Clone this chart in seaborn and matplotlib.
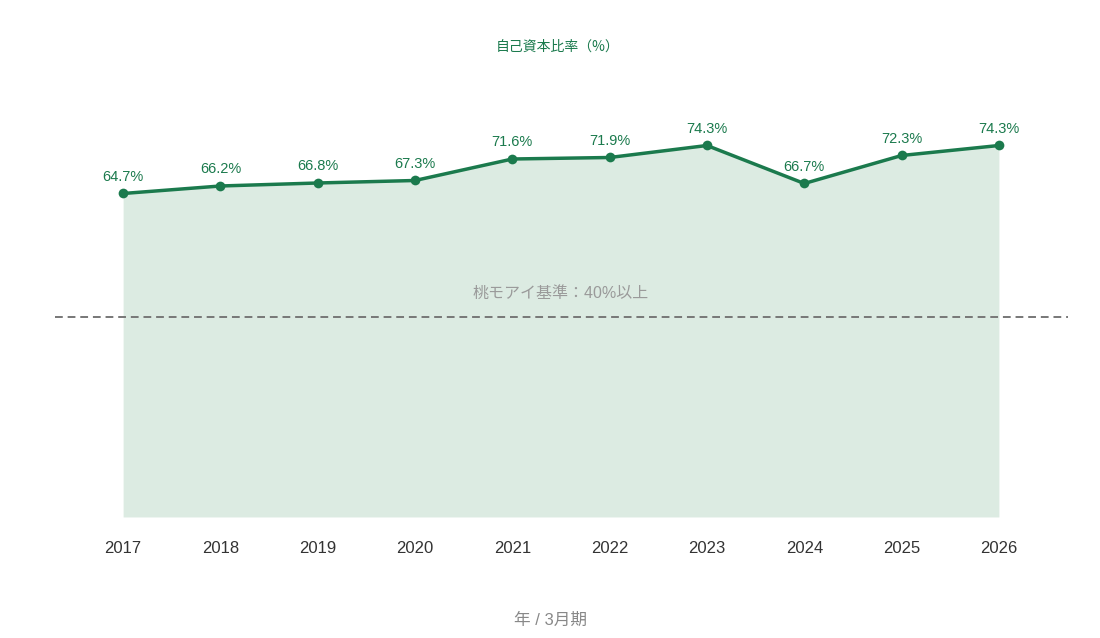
import numpy as np
import pandas as pd
import matplotlib
matplotlib.use("Agg")
import matplotlib.pyplot as plt
import seaborn as sns

# データ
years = ["2017", "2018", "2019", "2020", "2021", "2022", "2023", "2024", "2025", "2026"]
ratio = [64.7, 66.2, 66.8, 67.3, 71.6, 71.9, 74.3, 66.7, 72.3, 74.3]
baseline = 40
baseline_label = "桃モアイ基準：40%以上"
title = "自己資本比率（%）"
xlabel = "年 / 3月期"

green = "#1b7a4d"
fill_c = "#dcebe2"

sns.set_theme(style="white")
plt.rcParams['font.family'] = ['Liberation Sans', 'Noto Sans CJK JP', 'DejaVu Sans']

df = pd.DataFrame({"year": years, "ratio": ratio})
df["pos"] = np.arange(len(df))

fig = plt.figure(figsize=(11, 6.38), dpi=100)
ax = fig.add_axes([55 / 1100, 0.1897, (1068 - 55) / 1100, 0.6661])

ax.fill_between(df["pos"], 0, df["ratio"], color=fill_c, linewidth=0, zorder=1)
sns.lineplot(data=df, x="pos", y="ratio", ax=ax, color=green, linewidth=2.5,
             marker="o", markersize=7, markeredgewidth=0, zorder=3)
ax.axhline(baseline, color="#777777", linestyle=(0, (4, 2.5)), linewidth=1.4, zorder=2)
ax.text(len(df) / 2 - 0.5, baseline + 4.8, baseline_label, ha="center", va="center",
        fontsize=11.5, color="#9a9a9a")

for _, r in df.iterrows():
    ax.annotate(f"{r['ratio']:.1f}%", (r["pos"], r["ratio"]), xytext=(0, 12),
                textcoords="offset points", ha="center", va="center",
                fontsize=10.5, color=green)

ax.set_xlim(-0.7, len(df) - 1 + 0.71)
ax.set_ylim(0, 85)
ax.set_xticks(df["pos"])
ax.set_xticklabels(years, fontsize=12, color="#333333")
ax.tick_params(axis="x", length=0, pad=17)
ax.set_yticks([])
ax.set_xlabel("")
ax.set_ylabel("")
for s in ax.spines.values():
    s.set_visible(False)

fig.text(558 / 1100, 1 - 47 / 638, title, ha="center", va="center", fontsize=10,
         color=green, family=['Noto Sans CJK JP', 'DejaVu Sans'])
fig.text(551 / 1100, 1 - 620 / 638, xlabel, ha="center", va="center", fontsize=12, color="#888888")

fig.savefig("out.png", dpi=100)
plt.close(fig)
